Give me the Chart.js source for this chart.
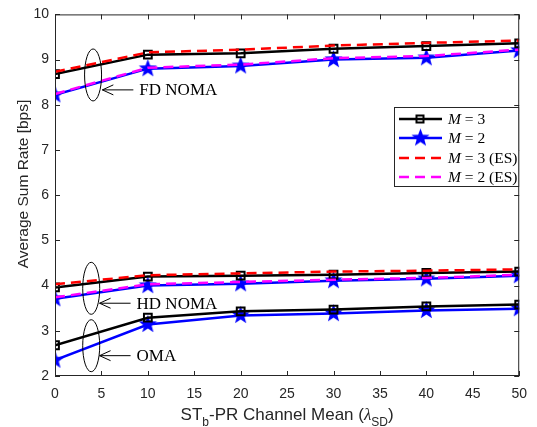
<!DOCTYPE html>
<html>
<head>
<meta charset="utf-8">
<script src="https://cdn.jsdelivr.net/npm/chart.js@4"></script>
<style>
  body { margin: 0; background: #fff; }
  #wrap { width: 537px; height: 427px; }
</style>
</head>
<body>
<div id="wrap"><canvas id="rateChart" width="537" height="427"></canvas></div>
<script>
// x values (channel mean) and the curves
const channelMeans = [0, 10, 20, 30, 40, 50];

const fdM3   = [8.68, 9.11, 9.14, 9.24, 9.30, 9.36];
const fdM2   = [8.22, 8.80, 8.86, 9.00, 9.04, 9.20];
const fdM3es = [8.73, 9.16, 9.22, 9.31, 9.37, 9.42];
const fdM2es = [8.24, 8.82, 8.89, 9.03, 9.08, 9.22];

const hdM3   = [3.96, 4.20, 4.22, 4.24, 4.28, 4.31];
const hdM2   = [3.71, 4.00, 4.04, 4.11, 4.15, 4.22];
const hdM3es = [4.03, 4.23, 4.27, 4.31, 4.33, 4.36];
const hdM2es = [3.74, 4.03, 4.08, 4.13, 4.17, 4.24];

const omaM3  = [2.68, 3.29, 3.43, 3.47, 3.54, 3.58];
const omaM2  = [2.35, 3.14, 3.34, 3.38, 3.45, 3.49];

const legendLabels = ["M = 3", "M = 2", "M = 3 (ES)", "M = 2 (ES)"];

// annotation groups: ellipse centre + arrow tip (data units) and label
const groups = [
  { label: "FD NOMA", cx: 4.1, cy: 8.66, tipX: 5.1, tipY: 8.33 },
  { label: "HD NOMA", cx: 3.9, cy: 3.94, tipX: 4.8, tipY: 3.61 },
  { label: "OMA",     cx: 3.9, cy: 2.67, tipX: 4.8, tipY: 2.45 }
];

const axisColor = "#262626";

// filled five point star used as a marker
function makeStar(color, outer) {
  const c = document.createElement("canvas");
  const size = Math.ceil(outer * 2 + 2);
  c.width = size; c.height = size;
  const g = c.getContext("2d");
  const inner = outer * 0.42;
  g.beginPath();
  for (let i = 0; i < 10; i++) {
    const r = i % 2 === 0 ? outer : inner;
    const a = -Math.PI / 2 + i * Math.PI / 5;
    const px = size / 2 + r * Math.cos(a);
    const py = size / 2 + r * Math.sin(a);
    if (i === 0) g.moveTo(px, py); else g.lineTo(px, py);
  }
  g.closePath();
  g.fillStyle = color;
  g.fill();
  return c;
}
const starImg = makeStar("#0000ff", 9.5);

function pts(arr) {
  return arr.map((v, i) => ({ x: channelMeans[i], y: v }));
}

const styleM3 = { borderColor: "#000", borderWidth: 2.5, pointStyle: "rect", pointRadius: 5.5,
  pointBorderColor: "#000", pointBackgroundColor: "rgba(0,0,0,0)", pointBorderWidth: 2 };
const styleM2 = { borderColor: "#0000ff", borderWidth: 2.5, pointStyle: starImg, pointRadius: 9 };
const styleM3es = { borderColor: "#ff0000", borderWidth: 2.5, borderDash: [10, 6], pointRadius: 0 };
const styleM2es = { borderColor: "#ff00ff", borderWidth: 2.5, borderDash: [10, 6], pointRadius: 0 };

function ds(arr, style, order) {
  return Object.assign({ data: pts(arr), tension: 0, fill: false, order: order }, style);
}

const datasets = [
  ds(fdM3es, styleM3es, 1), ds(fdM2es, styleM2es, 1),
  ds(hdM3es, styleM3es, 1), ds(hdM2es, styleM2es, 1),
  ds(fdM3, styleM3, 2), ds(fdM2, styleM2, 2),
  ds(hdM3, styleM3, 2), ds(hdM2, styleM2, 2),
  ds(omaM3, styleM3, 2), ds(omaM2, styleM2, 2)
];

// box, inward ticks, axis titles, ellipses and legend
const decor = {
  id: "decor",
  afterDraw(chart) {
    const ctx = chart.ctx;
    const a = chart.chartArea;
    const xs = chart.scales.x, ys = chart.scales.y;
    ctx.save();

    // box
    ctx.strokeStyle = axisColor;
    ctx.lineWidth = 1;
    ctx.strokeRect(a.left + 0.5, a.top + 0.5, a.right - a.left - 1, a.bottom - a.top - 1);

    // ticks inside on all four sides
    ctx.beginPath();
    xs.ticks.forEach(t => {
      const px = Math.round(xs.getPixelForValue(t.value)) + 0.5;
      ctx.moveTo(px, a.bottom); ctx.lineTo(px, a.bottom - 5);
      ctx.moveTo(px, a.top); ctx.lineTo(px, a.top + 5);
    });
    ys.ticks.forEach(t => {
      const py = Math.round(ys.getPixelForValue(t.value)) + 0.5;
      ctx.moveTo(a.left, py); ctx.lineTo(a.left + 5, py);
      ctx.moveTo(a.right, py); ctx.lineTo(a.right - 5, py);
    });
    ctx.stroke();

    // y title
    ctx.fillStyle = axisColor;
    ctx.font = "15.5px 'Liberation Sans', Arial, sans-serif";
    ctx.textAlign = "center";
    ctx.textBaseline = "alphabetic";
    ctx.save();
    ctx.translate(28, 184);
    ctx.rotate(-Math.PI / 2);
    ctx.fillText("Average Sum Rate [bps]", 0, 0);
    ctx.restore();

    // x title with subscripts
    const base = 420;
    const mainFont = "17px 'Liberation Sans', Arial, sans-serif";
    const subFont = "12px 'Liberation Sans', Arial, sans-serif";
    const lamFont = "italic 17px 'Liberation Serif', 'Times New Roman', serif";
    const parts = [
      { t: "ST", f: mainFont, dy: 0 },
      { t: "b", f: subFont, dy: 6 },
      { t: "-PR Channel Mean (", f: mainFont, dy: 0 },
      { t: "\u03bb", f: lamFont, dy: 0 },
      { t: "SD", f: subFont, dy: 6 },
      { t: ")", f: mainFont, dy: 0 }
    ];
    let total = 0;
    parts.forEach(p => { ctx.font = p.f; p.w = ctx.measureText(p.t).width; total += p.w; });
    let cx = (a.left + a.right) / 2 - total / 2;
    ctx.textAlign = "left";
    parts.forEach(p => { ctx.font = p.f; ctx.fillText(p.t, cx, base + p.dy); cx += p.w; });

    // group annotations
    ctx.strokeStyle = "#000";
    ctx.fillStyle = "#000";
    ctx.lineWidth = 1;
    ctx.font = "17px 'Liberation Serif', 'Times New Roman', serif";
    ctx.textBaseline = "middle";
    groups.forEach(g => {
      const ex = xs.getPixelForValue(g.cx), ey = ys.getPixelForValue(g.cy);
      ctx.beginPath();
      ctx.ellipse(ex, ey, 8.5, 26, 0, 0, Math.PI * 2);
      ctx.stroke();
      const tx = xs.getPixelForValue(g.tipX), ty = ys.getPixelForValue(g.tipY);
      ctx.beginPath();
      ctx.moveTo(tx, ty); ctx.lineTo(tx + 31, ty);
      ctx.moveTo(tx + 11, ty - 5); ctx.lineTo(tx, ty); ctx.lineTo(tx + 11, ty + 5);
      ctx.stroke();
      ctx.fillText(g.label, tx + 37, ty + 1);
    });

    // legend
    const lx = 394, ly = 107, lw = a.right - lx, lh = 80;
    ctx.fillStyle = "#fff";
    ctx.fillRect(lx, ly, lw, lh);
    ctx.strokeStyle = axisColor;
    ctx.strokeRect(lx + 0.5, ly + 0.5, lw - 1, lh - 1);
    const styles = [styleM3, styleM2, styleM3es, styleM2es];
    const rows = [119, 138, 158, 177];
    styles.forEach((s, i) => {
      const y = rows[i];
      ctx.save();
      ctx.strokeStyle = s.borderColor;
      ctx.lineWidth = 2.5;
      ctx.setLineDash(s.borderDash || []);
      ctx.beginPath();
      ctx.moveTo(399, y); ctx.lineTo(442, y);
      ctx.stroke();
      ctx.restore();
      if (s.pointStyle === "rect") {
        ctx.save();
        ctx.strokeStyle = "#000"; ctx.lineWidth = 2;
        ctx.strokeRect(416.5, y - 3.5, 7, 7);
        ctx.restore();
      } else if (s.pointStyle === starImg) {
        ctx.drawImage(starImg, 420.5 - starImg.width / 2, y - starImg.height / 2);
      }
      // label: italic M, rest upright
      const lab = legendLabels[i];
      ctx.fillStyle = "#000";
      ctx.textBaseline = "middle";
      ctx.font = "italic 15.5px 'Liberation Serif', 'Times New Roman', serif";
      ctx.fillText("M", 448, y + 1);
      const mw = ctx.measureText("M").width;
      ctx.font = "15.5px 'Liberation Serif', 'Times New Roman', serif";
      ctx.fillText(lab.slice(1), 448 + mw, y + 1);
    });

    ctx.restore();
  }
};

new Chart(document.getElementById("rateChart").getContext("2d"), {
  type: "line",
  data: { datasets: datasets },
  options: {
    responsive: false,
    animation: false,
    layout: { padding: { left: 0, right: 12, top: 11, bottom: 0 } },
    plugins: { legend: { display: false }, tooltip: { enabled: false } },
    scales: {
      x: {
        type: "linear", min: 0, max: 50,
        grid: { display: false, drawTicks: false },
        border: { display: false },
        ticks: { stepSize: 5, padding: 10, color: axisColor, maxRotation: 0,
          font: { family: "'Liberation Sans', Arial, sans-serif", size: 14 } },
        afterFit(scale) { scale.height = 51; }
      },
      y: {
        min: 2, max: 10,
        grid: { display: false, drawTicks: false },
        border: { display: false },
        ticks: { stepSize: 1, padding: 6, color: axisColor,
          font: { family: "'Liberation Sans', Arial, sans-serif", size: 14 } },
        afterFit(scale) { scale.width = 55; }
      }
    }
  },
  plugins: [decor]
});
</script>
</body>
</html>
